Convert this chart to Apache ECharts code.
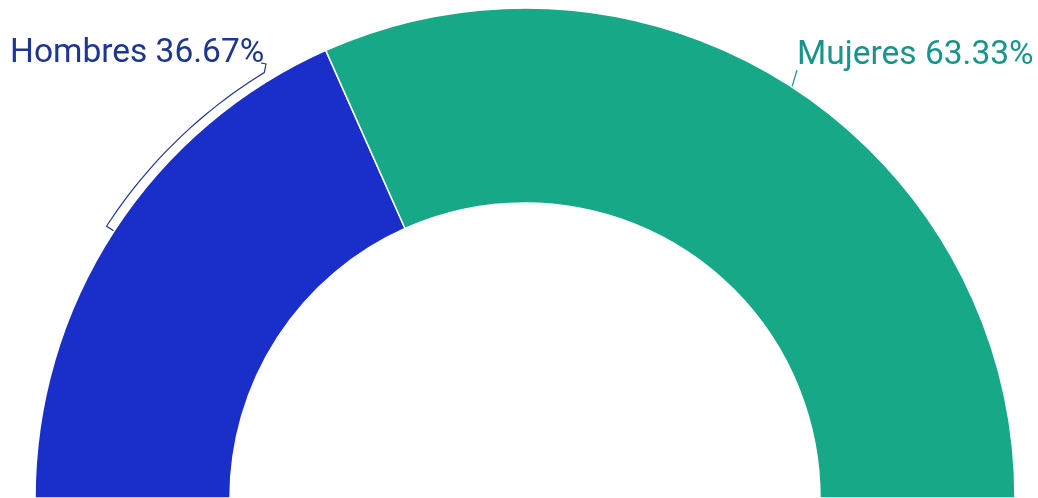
<!DOCTYPE html>
<html>
<head>
<meta charset="utf-8">
<script src="https://cdn.jsdelivr.net/npm/echarts@6/dist/echarts.min.js"></script>
<style>
html,body{margin:0;padding:0;background:#fff;}
#chart{width:1038px;height:498px;}
</style>
</head>
<body>
<div id="chart"></div>
<script>
const categories = ['Hombres', 'Mujeres'];
const values = [36.67, 63.33];
const sliceColors = ['#1a2fca', '#17a888'];
const textColors = ['#1d3690', '#1a948a'];

const CX = 525, CY = 498, R0 = 295, R1 = 490;
const total = values.reduce((a, b) => a + b, 0);
function midAngle(i) {
  let before = 0;
  for (let k = 0; k < i; k++) before += values[k];
  return Math.PI - (before + values[i] / 2) / total * Math.PI;
}
function pt(r, a) { return [CX + r * Math.cos(a), CY - r * Math.sin(a)]; }

const chart = echarts.init(document.getElementById('chart'), null, {renderer: 'canvas'});
chart.setOption({
  animation: false,
  backgroundColor: '#ffffff',
  series: [{
    type: 'pie',
    center: [CX, CY],
    radius: [R0, R1],
    startAngle: 180,
    endAngle: 0,
    clockwise: true,
    avoidLabelOverlap: false,
    itemStyle: {borderColor: '#ffffff', borderWidth: 1.5},
    label: {
      show: true,
      position: 'outside',
      formatter: '{b} {c}%',
      fontFamily: 'Roboto',
      fontSize: 33.5,
      fontWeight: 400
    },
    labelLine: {show: true, lineStyle: {width: 1.2}},
    labelLayout: function (params) {
      const i = params.dataIndex;
      const m = midAngle(i);
      if (i === 0) {
        const pts = [pt(R1, m), pt(R1 + 9, m)];
        const aEnd = 121.5 * Math.PI / 180;
        const steps = 24;
        for (let s = 1; s <= steps; s++) {
          const a = m + (aEnd - m) * s / steps;
          pts.push(pt(R1 + 9, a));
        }
        pts.push([266, 64]);
        pts.push([261, 63]);
        return {x: 10, y: 54, align: 'left', verticalAlign: 'middle', labelLinePoints: pts};
      } else {
        return {x: 797, y: 56, align: 'left', verticalAlign: 'middle',
          labelLinePoints: [pt(R1, m), [797, 70]]};
      }
    },
    data: categories.map((c, i) => ({
      name: c,
      value: values[i],
      itemStyle: {color: sliceColors[i]},
      label: {color: textColors[i]},
      labelLine: {lineStyle: {color: textColors[i]}}
    }))
  }]
});
</script>
</body>
</html>
